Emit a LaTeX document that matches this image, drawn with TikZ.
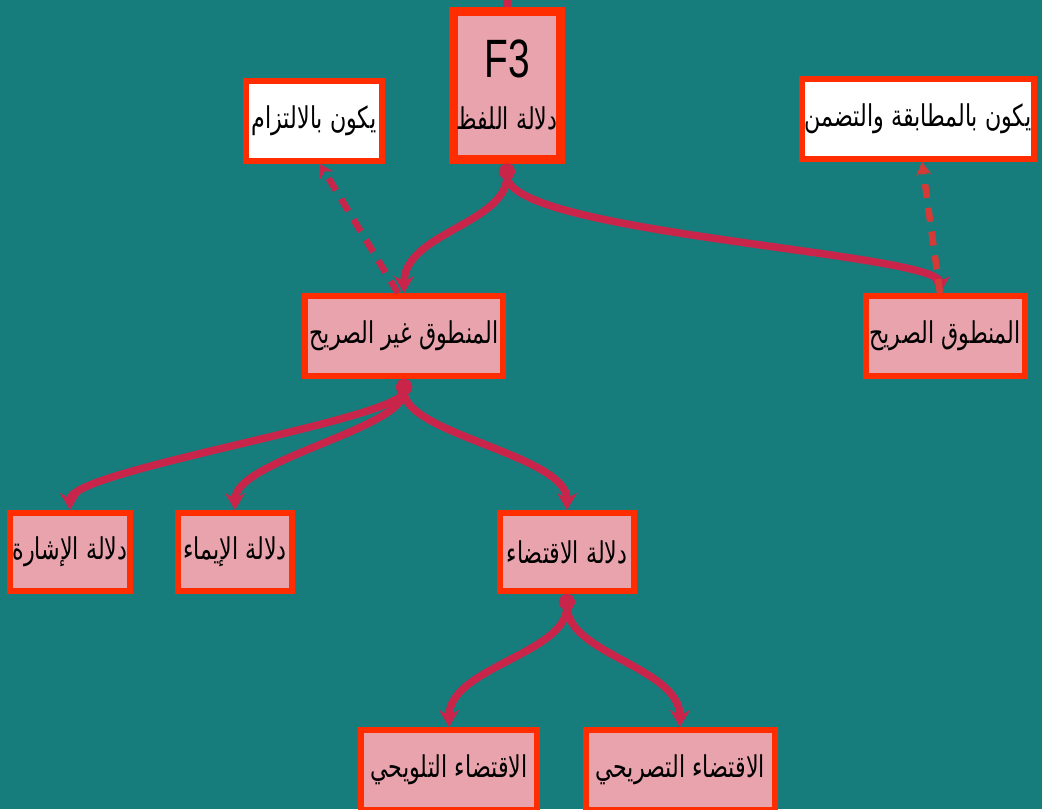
\documentclass[tikz,border=0pt]{standalone}
\usepackage{fontspec}
\setmainfont{DejaVu Sans}
\newfontfamily\arabicfont[Script=Arabic,FakeStretch=0.74]{DejaVu Sans}
\newfontfamily\latinsans[FakeStretch=0.72]{Liberation Sans}
\TeXXeTstate=1
\usetikzlibrary{arrows.meta}
\definecolor{bg}{HTML}{177D7C}
\definecolor{boxpink}{HTML}{E8A3AD}
\definecolor{boxred}{HTML}{FF2D00}
\definecolor{linkc}{HTML}{C9244A}
\definecolor{dlinkr}{HTML}{D63A36}
\newcommand{\ar}[1]{\beginR #1\endR}
\tikzset{
  box/.style={draw=boxred, line width=6pt, fill=boxpink, minimum height=80pt,
    inner sep=3pt, font=\arabicfont\fontsize{30}{34}\selectfont},
  wbox/.style={box, fill=white},
  link/.style={draw=linkc, line width=7.5pt,
    {Circle[length=16pt,width=16pt]}-{Stealth[length=17pt,width=20pt]}},
  dlink/.style={draw=linkc, line width=6.5pt, dash pattern=on 14pt off 10pt,
    -{Stealth[length=13pt,width=15pt]}},
}
\begin{document}
\begin{tikzpicture}[x=1pt,y=-1pt]
\useasboundingbox (0,0) rectangle (1042,809);
\fill[bg] (0,0) rectangle (1042,809);

% nodes
\node[box, line width=9pt, minimum width=101pt, minimum height=148pt, align=center]
  (f3) at (507,85) {{\latinsans\fontsize{54}{56}\selectfont F3}\\[18pt]\ar{دلالة اللفظ}};
\node[wbox, minimum width=136pt] (iltizam) at (314,121) {\ar{يكون بالالتزام}};
\node[wbox, minimum width=227pt] (mutabaqa) at (918,119) {\ar{يكون بالمطابقة والتضمن}};
\node[box, minimum width=198pt] (ghs) at (404,336) {\ar{المنطوق غير الصريح}};
\node[box, minimum width=159pt] (sarih) at (945,336) {\ar{المنطوق الصريح}};
\node[box, minimum width=119pt, minimum height=78pt] (ishara) at (70,552) {\ar{دلالة الإشارة}};
\node[box, minimum width=114pt, minimum height=78pt] (imaa) at (235,552) {\ar{دلالة الإيماء}};
\node[box, minimum width=134pt, minimum height=78pt] (iqtida) at (567,552) {\ar{دلالة الاقتضاء}};
\node[box, minimum width=176pt] (talwihi) at (449,770) {\ar{الاقتضاء التلويحي}};
\node[box, minimum width=189pt] (tasrihi) at (680,770) {\ar{الاقتضاء التصريحي}};

% incoming line from above
\coordinate (topin) at (507,0);
\draw[draw=linkc, line width=7.5pt] (f3.north) -- (topin);

% solid links
\draw[link] (f3.south) .. controls +(0,60) and +(0,-60) .. (ghs.north);
\draw[link] (f3.south) .. controls +(0,70) and +(0,-40) .. ([xshift=-5pt]sarih.north);
\draw[link] (ghs.south) .. controls +(0,40) and +(0,-40) .. (ishara.north);
\draw[link] (ghs.south) .. controls +(0,50) and +(0,-50) .. (imaa.north);
\draw[link] (ghs.south) .. controls +(0,55) and +(0,-55) .. (iqtida.north);
\draw[link] (iqtida.south) .. controls +(0,60) and +(0,-60) .. (talwihi.north);
\draw[link] (iqtida.south) .. controls +(0,60) and +(0,-60) .. (tasrihi.north);

% dashed links
\draw[dlink] ([xshift=-6pt]ghs.north) -- ([xshift=6pt]iltizam.south);
\draw[dlink, draw=dlinkr] ([xshift=-5pt]sarih.north) -- ([xshift=4pt]mutabaqa.south);
\end{tikzpicture}
\end{document}
